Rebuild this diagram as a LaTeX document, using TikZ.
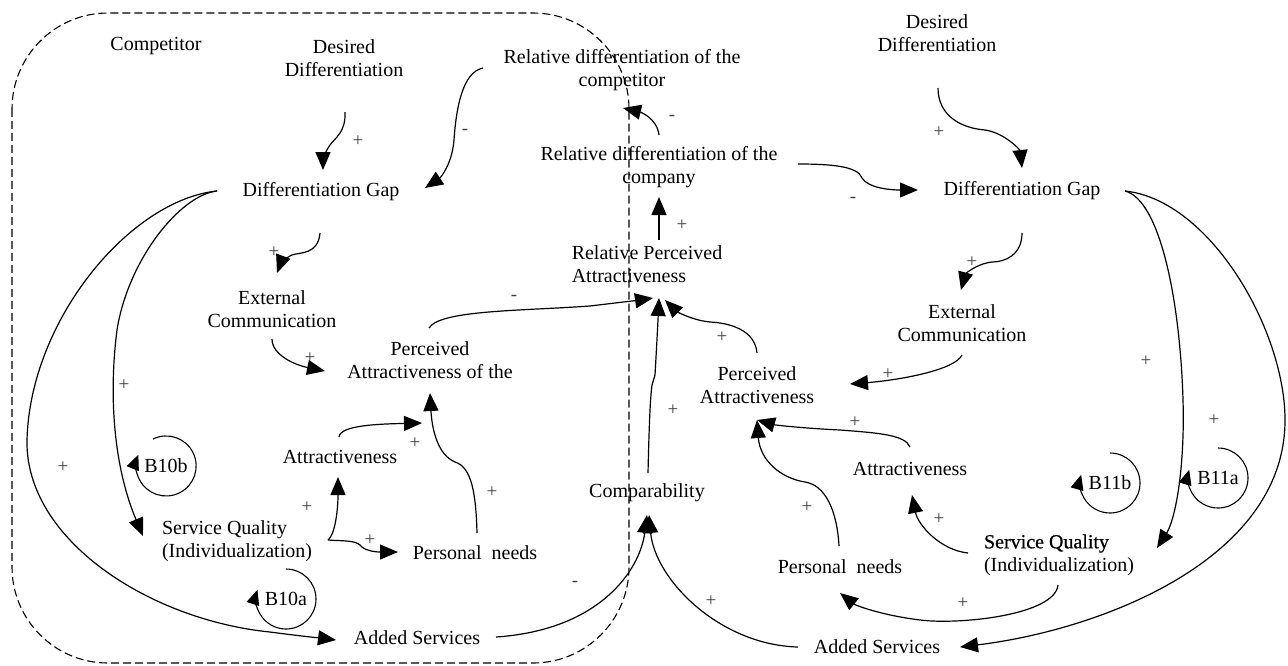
\documentclass[tikz,border=0pt]{standalone}
\usepackage{fontspec}
\setmainfont{Liberation Serif}
\newfontfamily\heavyserif{Liberation Serif}[FakeBold=0.6]
\usetikzlibrary{arrows.meta}
\begin{document}
\begin{tikzpicture}[x=0.5pt,y=-0.5pt,
  lab/.style={font=\fontsize{10}{11.5}\selectfont, align=center, inner sep=1pt},
  sgn/.style={font=\fontsize{9.5}{9.5}\selectfont, text=black!75, inner sep=0pt},
  arr/.style={line width=0.6pt, -{Triangle[length=9pt,width=7.5pt]}},
  loopar/.style={line width=0.55pt, -{Triangle[length=7.5pt,width=6.5pt]}},
  border/.style={line width=0.55pt, dash pattern=on 4pt off 2pt, rounded corners=48pt}]
\useasboundingbox (0,0) rectangle (1288,665);

% competitor boundary
\draw[border] (12,13) rectangle (629,663);

% variables
\node[lab] (comp) at (156,46) {Competitor};
\node[lab] (ddL) at (344,58) {Desired\\Differentiation};
\node[lab] (rdc) at (622,70) {Relative differentiation of the\\competitor};
\node[lab] (rdo) at (659,167) {Relative differentiation of the\\company};
\node[lab] (ddR) at (937,33) {Desired\\Differentiation};
\node[lab] (dgL) at (321,192) {Differentiation Gap};
\node[lab] (dgR) at (1022,191) {Differentiation Gap};
\node[lab, align=left] (rpa) at (647,264) {Relative Perceived\\Attractiveness};
\node[lab] (ecL) at (272,309) {External\\Communication};
\node[lab] (ecR) at (962,323) {External\\Communication};
\node[lab] (paL) at (430,360) {Perceived\\Attractiveness of the};
\node[lab] (paR) at (757,385) {Perceived\\Attractiveness};
\node[lab] (atL) at (340,457) {Attractiveness};
\node[lab] (atR) at (910,469) {Attractiveness};
\node[lab] (cmp) at (647,493) {Comparability};
\node[lab, align=left] (sqL) at (237,541) {Service Quality\\(Individualization)};
\node[lab, align=left] (sqR) at (1059,555) {{\heavyserif Service Quality}\\(Individualization)};
\node[lab] (pnL) at (475,553) {Personal\ \ needs};
\node[lab] (pnR) at (840,567) {Personal\ \ needs};
\node[lab] (asL) at (417,638) {Added Services};
\node[lab] (asR) at (877,647) {Added Services};

% loop identifiers
\node[lab] (b10b) at (166,466) {B10b};
\node[lab] (b10a) at (286,599) {B10a};
\node[lab] (b11b) at (1110,483) {B11b};
\node[lab] (b11a) at (1218,478) {B11a};

\draw[loopar] ([shift={(-13,-27)}]b10b.center) arc[start angle=244, end angle=562, radius=30];
\draw[loopar] ([shift={(0,-30)}]b10a.center) arc[start angle=270, end angle=558, radius=30];
\draw[loopar] ([shift={(0,-30)}]b11b.center) arc[start angle=270, end angle=556, radius=30];
\draw[loopar] ([shift={(0,-30)}]b11a.center) arc[start angle=270, end angle=556, radius=30];

% causal links
\draw[arr] ([shift={(1,54)}]ddL.center) .. controls (346,132) and (335,138) .. (330,145)
  .. controls (325,152) and (323,160) .. ([shift={(2,-22)}]dgL.center);
\draw[arr] ([shift={(-139,-2)}]rdc.center) .. controls (462,72) and (456,110) .. (454,140)
  .. controls (452,165) and (440,178) .. ([shift={(104,-4)}]dgL.center);
\draw[arr] ([shift={(0,-32)}]rdo.center) .. controls (657,118) and (640,112) .. ([shift={(1,38)}]rdc.center);
\draw[arr] ([shift={(12,-24)}]rpa.center) -- ([shift={(0,30)}]rdo.center);
\draw[arr] ([shift={(139,-3)}]rdo.center) .. controls (830,164) and (858,166) .. (862,178)
  .. controls (868,188) and (890,190) .. ([shift={(-104,-1)}]dgR.center);
\draw[arr] ([shift={(1,55)}]ddR.center) .. controls (938,115) and (960,128) .. (985,130)
  .. controls (1005,133) and (1020,150) .. ([shift={(0,-23)}]dgR.center);
\draw[arr] ([shift={(-1,41)}]dgL.center) .. controls (318,255) and (300,252) .. (292,255)
  .. controls (285,258) and (280,265) .. ([shift={(5,-36)}]ecL.center);
\draw[arr] ([shift={(0,42)}]dgR.center) .. controls (1022,255) and (1005,262) .. (992,262)
  .. controls (975,264) and (965,275) .. ([shift={(-1,-33)}]ecR.center);
\draw[arr] ([shift={(0,30)}]ecL.center) .. controls (272,355) and (295,365) .. ([shift={(-105,11)}]paL.center);
\draw[arr] ([shift={(0,32)}]ecR.center) .. controls (955,370) and (900,380) .. ([shift={(93,-1)}]paR.center);
\draw[arr] ([shift={(-1,-32)}]paL.center) .. controls (440,310) and (520,311) .. (590,306)
  .. controls (615,303) and (640,300) .. ([shift={(6,34)}]rpa.center);
\draw[arr] ([shift={(0,-32)}]paR.center) .. controls (755,330) and (730,323) .. (710,322)
  .. controls (690,320) and (675,310) .. ([shift={(18,36)}]rpa.center);
\draw[arr] ([shift={(1,-20)}]cmp.center) .. controls (649,430) and (650,400) .. (652,385) -- (655,375)
  .. controls (657,340) and (658,320) .. ([shift={(12,34)}]rpa.center);
\draw[arr] ([shift={(-1,-20)}]atL.center) .. controls (340,425) and (380,424) .. ([shift={(-8,63)}]paL.center);
\draw[arr] ([shift={(2,-20)}]pnL.center) .. controls (476,495) and (472,467) .. (455,462)
  .. controls (438,455) and (432,430) .. ([shift={(0,33)}]paL.center);
\draw[arr] ([shift={(91,-1)}]sqL.center) .. controls (335,535) and (338,510) .. ([shift={(-2,20)}]atL.center);
\draw[arr] ([shift={(91,-1)}]sqL.center) .. controls (340,541) and (355,540) .. (360,545)
  .. controls (365,552) and (380,552) .. ([shift={(-77,-1)}]pnL.center);
\draw[arr] ([shift={(-104,-1)}]dgL.center) .. controls (180,195) and (128,260) .. (117,330)
  .. controls (108,400) and (115,470) .. ([shift={(-94,-5)}]sqL.center);
\draw[arr] ([shift={(-104,-1)}]dgL.center) .. controls (130,200) and (30,320) .. (27,440)
  .. controls (25,540) and (150,620) .. (270,632)
  .. controls (300,636) and (320,638) .. ([shift={(-81,2)}]asL.center);
\draw[arr] ([shift={(79,-1)}]asL.center) .. controls (600,630) and (640,570) .. ([shift={(0,22)}]cmp.center);
\draw[arr] ([shift={(-79,0)}]asR.center) .. controls (720,645) and (655,580) .. ([shift={(2,22)}]cmp.center);
\draw[arr] ([shift={(0,-22)}]atR.center) .. controls (905,435) and (880,433) .. (840,430)
  .. controls (800,428) and (775,425) .. ([shift={(0,35)}]paR.center);
\draw[arr] ([shift={(-1,-21)}]pnR.center) .. controls (837,510) and (825,485) .. (805,482)
  .. controls (780,478) and (760,460) .. ([shift={(0,35)}]paR.center);
\draw[arr] ([shift={(-91,-2)}]sqR.center) .. controls (940,550) and (918,525) .. ([shift={(2,26)}]atR.center);
\draw[arr] ([shift={(-1,30)}]sqR.center) .. controls (1055,615) and (960,625) .. (920,620)
  .. controls (880,615) and (855,605) .. ([shift={(0,26)}]pnR.center);
\draw[arr] ([shift={(103,0)}]dgR.center) .. controls (1160,200) and (1180,300) .. (1183,400)
  .. controls (1185,470) and (1175,520) .. ([shift={(98,-7)}]sqR.center);
\draw[arr] ([shift={(103,0)}]dgR.center) .. controls (1210,200) and (1285,330) .. (1285,420)
  .. controls (1285,560) and (1100,630) .. ([shift={(83,0)}]asR.center);

% link polarities
\node[sgn] (s1) at (358,141) {+};
\node[sgn] (s2) at (465,132) {-};
\node[sgn] (s3) at (672,118) {-};
\node[sgn] (s4) at (682,225) {+};
\node[sgn] (s5) at (853,200) {-};
\node[sgn] (s6) at (939,132) {+};
\node[sgn] (s7) at (274,252) {+};
\node[sgn] (s8) at (972,262) {+};
\node[sgn] (s9) at (310,358) {+};
\node[sgn] (s10) at (888,374) {+};
\node[sgn] (s11) at (514,298) {-};
\node[sgn] (s12) at (722,337) {+};
\node[sgn] (s13) at (673,410) {+};
\node[sgn] (s14) at (415,443) {+};
\node[sgn] (s15) at (492,492) {+};
\node[sgn] (s16) at (307,507) {+};
\node[sgn] (s17) at (370,540) {+};
\node[sgn] (s18) at (124,385) {+};
\node[sgn] (s19) at (63,467) {+};
\node[sgn] (s20) at (575,584) {-};
\node[sgn] (s21) at (711,601) {+};
\node[sgn] (s22) at (855,422) {+};
\node[sgn] (s23) at (807,507) {+};
\node[sgn] (s24) at (939,519) {+};
\node[sgn] (s25) at (963,603) {+};
\node[sgn] (s26) at (1146,361) {+};
\node[sgn] (s27) at (1214,420) {+};
\end{tikzpicture}
\end{document}
